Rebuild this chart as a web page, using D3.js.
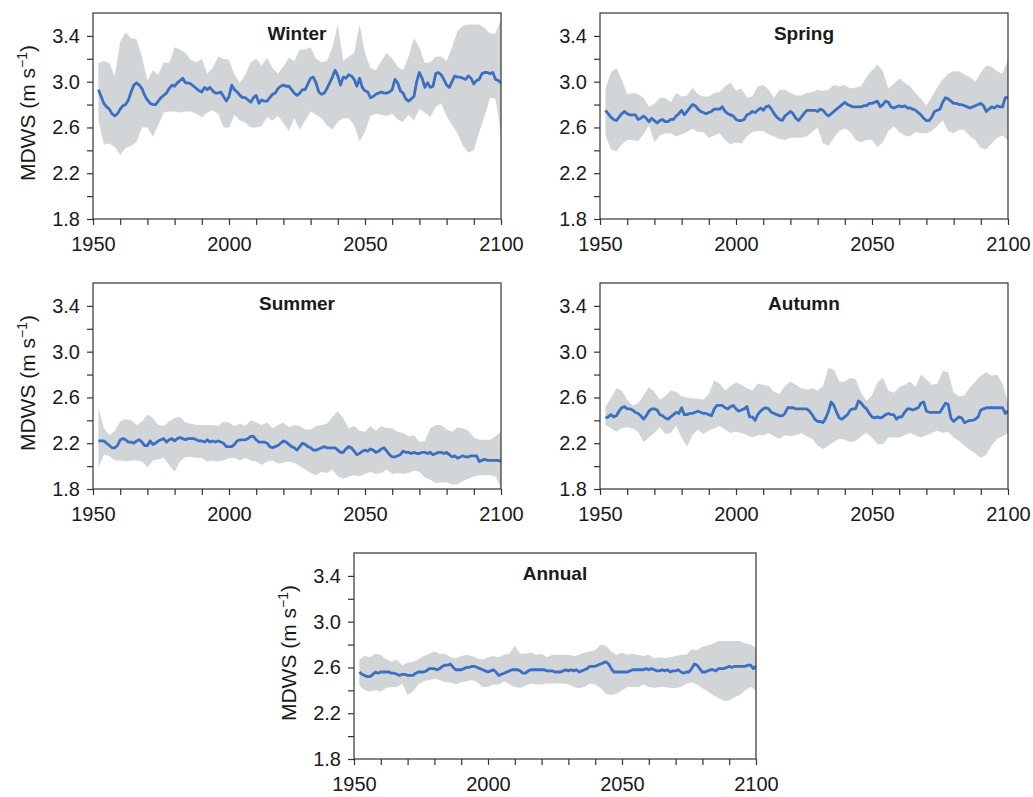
<!DOCTYPE html>
<html>
<head>
<meta charset="utf-8">
<script src="https://cdn.jsdelivr.net/npm/d3@7"></script>
<style>
  body { margin: 0; background: #fff; }
  svg { display: block; }
  text { font-family: "Liberation Sans", Arial, Helvetica, sans-serif; fill: #1a1a1a; }
</style>
</head>
<body>
<svg id="chart" width="1033" height="797"></svg>
<script>
// Years of the ensemble mean (annual) and of the ensemble spread (every second year)
const meanYears = d3.range(1952, 2101);
const bandYears = d3.range(1952, 2101, 2);

// Axis ticks
const yMajorTicks = [1.8, 2.2, 2.6, 3.0, 3.4];
const yAllTicks = [1.8, 2.0, 2.2, 2.4, 2.6, 2.8, 3.0, 3.2, 3.4];
const xAllTicks = d3.range(1950, 2101, 10);
const xLabelTicks = [1950, 2000, 2050, 2100];

// Winter
const winterMean = [
  2.93,2.87,2.81,2.78,2.76,2.72,2.70,2.72,2.76,2.79,
  2.80,2.84,2.91,2.97,2.99,2.97,2.94,2.88,2.84,2.81,
  2.80,2.80,2.83,2.86,2.88,2.90,2.94,2.97,2.96,2.99,
  3.01,3.03,2.99,2.99,2.98,2.96,2.94,2.92,2.91,2.95,
  2.93,2.95,2.92,2.90,2.90,2.91,2.87,2.83,2.87,2.97,
  2.93,2.91,2.88,2.86,2.86,2.84,2.82,2.86,2.88,2.81,
  2.84,2.83,2.83,2.86,2.89,2.90,2.94,2.96,2.97,2.96,
  2.96,2.93,2.90,2.88,2.90,2.93,2.93,2.98,3.03,3.04,
  2.99,2.91,2.89,2.90,2.94,2.99,3.04,3.10,3.05,2.97,
  3.04,3.03,3.06,3.05,3.02,2.96,3.03,2.95,2.92,2.91,
  2.86,2.87,2.89,2.90,2.91,2.90,2.90,2.91,2.93,3.02,
  2.99,2.92,2.90,2.85,2.83,2.85,2.87,3.00,3.08,3.03,
  2.95,2.99,2.95,2.96,3.07,3.08,3.06,3.02,2.97,2.95,
  3.00,3.05,3.04,3.04,3.03,3.02,3.05,3.03,2.98,3.01,
  3.02,3.07,3.08,3.08,3.07,3.08,3.02,3.01,2.99
];
const winterHigh = [
  3.16,3.18,3.16,3.05,3.35,3.43,3.38,3.37,3.22,3.01,
  3.10,3.06,3.17,3.16,3.30,3.28,3.25,3.19,3.17,3.20,
  3.07,3.12,3.22,3.20,3.19,3.06,2.99,3.06,3.17,3.20,
  3.14,3.21,3.12,3.07,3.13,3.21,3.18,3.28,3.28,3.30,
  3.20,3.17,3.18,3.30,3.50,3.18,3.22,3.25,3.50,3.25,
  3.12,3.10,3.18,3.25,3.20,3.13,3.10,3.22,3.38,3.30,
  3.16,3.17,3.22,3.22,3.18,3.30,3.44,3.49,3.50,3.50,
  3.50,3.47,3.42,3.42,3.54
];
const winterLow = [
  2.66,2.45,2.46,2.43,2.36,2.42,2.44,2.47,2.60,2.60,
  2.52,2.62,2.73,2.74,2.74,2.73,2.74,2.74,2.72,2.69,
  2.73,2.75,2.72,2.60,2.60,2.71,2.66,2.64,2.60,2.60,
  2.61,2.69,2.66,2.70,2.64,2.57,2.68,2.58,2.66,2.74,
  2.71,2.68,2.62,2.58,2.65,2.68,2.68,2.62,2.48,2.56,
  2.70,2.72,2.71,2.70,2.72,2.67,2.65,2.71,2.66,2.76,
  2.73,2.69,2.78,2.81,2.70,2.62,2.55,2.44,2.38,2.40,
  2.56,2.70,2.86,2.85,2.55
];

// Spring
const springMean = [
  2.75,2.72,2.69,2.67,2.66,2.69,2.72,2.74,2.72,2.71,
  2.71,2.71,2.67,2.68,2.70,2.68,2.65,2.68,2.66,2.64,
  2.66,2.67,2.65,2.65,2.67,2.67,2.70,2.72,2.75,2.71,
  2.74,2.77,2.80,2.79,2.76,2.74,2.73,2.72,2.73,2.74,
  2.76,2.76,2.76,2.78,2.74,2.72,2.71,2.70,2.67,2.66,
  2.66,2.67,2.71,2.72,2.74,2.73,2.75,2.77,2.75,2.78,
  2.79,2.76,2.72,2.69,2.67,2.66,2.70,2.72,2.74,2.72,
  2.68,2.66,2.69,2.72,2.75,2.75,2.75,2.75,2.74,2.76,
  2.75,2.72,2.70,2.72,2.74,2.76,2.78,2.80,2.82,2.80,
  2.79,2.78,2.78,2.78,2.78,2.79,2.79,2.81,2.81,2.82,
  2.83,2.78,2.80,2.83,2.82,2.78,2.77,2.78,2.79,2.78,
  2.79,2.77,2.77,2.76,2.75,2.73,2.71,2.68,2.66,2.66,
  2.69,2.74,2.75,2.76,2.82,2.86,2.85,2.83,2.81,2.81,
  2.80,2.80,2.79,2.78,2.77,2.78,2.79,2.80,2.81,2.79,
  2.74,2.76,2.78,2.77,2.79,2.78,2.78,2.86,2.86
];
const springHigh = [
  2.94,3.08,3.12,3.02,2.89,2.90,2.89,2.86,2.78,2.81,
  2.86,2.86,2.82,2.90,2.87,2.88,2.95,2.89,2.87,2.87,
  2.90,2.91,2.96,2.99,2.92,2.94,2.86,2.87,2.96,2.97,
  2.93,2.86,2.93,2.93,2.90,2.88,2.88,2.90,2.91,2.93,
  2.92,2.93,2.97,2.96,2.97,2.94,2.95,2.96,3.04,3.10,
  3.15,3.09,2.94,2.98,3.03,2.99,2.96,2.90,2.85,2.79,
  2.87,2.95,3.02,3.07,3.09,3.09,3.06,3.04,3.00,3.08,
  3.14,3.13,3.09,3.07,3.20
];
const springLow = [
  2.53,2.41,2.39,2.45,2.49,2.49,2.48,2.54,2.62,2.47,
  2.53,2.55,2.55,2.52,2.54,2.56,2.59,2.56,2.56,2.51,
  2.53,2.55,2.49,2.45,2.47,2.46,2.52,2.56,2.57,2.57,
  2.54,2.52,2.50,2.49,2.51,2.51,2.51,2.52,2.56,2.60,
  2.46,2.44,2.51,2.57,2.59,2.56,2.49,2.47,2.49,2.49,
  2.43,2.47,2.57,2.61,2.56,2.53,2.52,2.56,2.55,2.55,
  2.57,2.61,2.66,2.57,2.55,2.58,2.58,2.52,2.49,2.42,
  2.41,2.46,2.51,2.53,2.49
];

// Summer
const summerMean = [
  2.22,2.22,2.22,2.20,2.18,2.16,2.16,2.18,2.23,2.24,
  2.23,2.21,2.21,2.20,2.22,2.23,2.21,2.18,2.18,2.22,
  2.19,2.20,2.22,2.23,2.24,2.21,2.23,2.24,2.22,2.24,
  2.25,2.24,2.23,2.24,2.24,2.24,2.23,2.22,2.22,2.21,
  2.23,2.21,2.22,2.21,2.22,2.21,2.20,2.17,2.17,2.17,
  2.19,2.22,2.23,2.23,2.23,2.24,2.26,2.26,2.23,2.21,
  2.21,2.21,2.20,2.17,2.16,2.17,2.18,2.20,2.22,2.21,
  2.19,2.17,2.16,2.14,2.17,2.20,2.19,2.17,2.16,2.14,
  2.14,2.15,2.16,2.17,2.16,2.16,2.16,2.16,2.14,2.12,
  2.12,2.15,2.17,2.16,2.13,2.10,2.11,2.13,2.14,2.13,
  2.15,2.14,2.12,2.13,2.15,2.16,2.13,2.10,2.08,2.08,
  2.09,2.10,2.13,2.12,2.12,2.11,2.12,2.11,2.11,2.12,
  2.12,2.11,2.12,2.10,2.11,2.12,2.12,2.11,2.12,2.10,
  2.08,2.09,2.07,2.08,2.09,2.08,2.08,2.09,2.09,2.09,
  2.04,2.05,2.06,2.05,2.05,2.05,2.05,2.05,2.04
];
const summerHigh = [
  2.51,2.33,2.27,2.31,2.39,2.41,2.40,2.36,2.39,2.45,
  2.42,2.36,2.35,2.39,2.42,2.43,2.38,2.37,2.36,2.36,
  2.36,2.36,2.35,2.39,2.38,2.35,2.37,2.35,2.40,2.38,
  2.36,2.38,2.33,2.36,2.38,2.34,2.36,2.35,2.32,2.32,
  2.35,2.36,2.37,2.43,2.48,2.42,2.33,2.35,2.31,2.30,
  2.35,2.31,2.35,2.33,2.33,2.30,2.29,2.26,2.27,2.21,
  2.22,2.33,2.36,2.36,2.32,2.30,2.34,2.33,2.31,2.25,
  2.23,2.23,2.23,2.26,2.30
];
const summerLow = [
  1.99,2.10,2.09,2.05,2.05,2.04,2.05,2.05,2.04,1.99,
  2.05,2.06,2.07,2.01,1.95,2.04,2.08,2.08,2.07,2.07,
  2.04,2.05,2.04,2.05,2.07,2.07,2.05,2.07,2.05,2.04,
  2.01,2.04,2.05,2.02,2.03,2.04,2.03,2.00,1.97,1.94,
  1.92,1.95,1.94,1.97,1.91,1.89,1.91,1.92,1.91,1.93,
  1.95,1.93,1.94,1.97,1.93,1.94,1.93,1.94,1.96,1.95,
  1.90,1.88,1.85,1.86,1.86,1.84,1.84,1.87,1.89,1.91,
  1.92,1.92,1.92,1.91,1.81
];

// Autumn
const autumnMean = [
  2.42,2.43,2.45,2.43,2.44,2.48,2.51,2.52,2.50,2.50,
  2.49,2.47,2.46,2.44,2.41,2.44,2.48,2.50,2.50,2.49,
  2.45,2.44,2.42,2.41,2.43,2.45,2.47,2.46,2.51,2.45,
  2.45,2.46,2.46,2.47,2.48,2.47,2.46,2.46,2.45,2.44,
  2.50,2.53,2.53,2.53,2.51,2.50,2.52,2.53,2.50,2.48,
  2.49,2.50,2.52,2.43,2.43,2.40,2.45,2.48,2.50,2.51,
  2.50,2.47,2.46,2.45,2.44,2.44,2.46,2.51,2.51,2.51,
  2.50,2.50,2.50,2.50,2.50,2.48,2.45,2.41,2.39,2.39,
  2.38,2.42,2.48,2.56,2.53,2.47,2.42,2.41,2.43,2.45,
  2.49,2.50,2.50,2.57,2.55,2.52,2.50,2.46,2.43,2.42,
  2.43,2.42,2.43,2.45,2.46,2.45,2.45,2.41,2.43,2.43,
  2.47,2.50,2.50,2.49,2.50,2.51,2.55,2.56,2.48,2.47,
  2.47,2.47,2.47,2.47,2.51,2.55,2.54,2.42,2.39,2.41,
  2.43,2.42,2.38,2.39,2.40,2.40,2.41,2.43,2.49,2.50,
  2.51,2.51,2.51,2.51,2.51,2.51,2.51,2.46,2.48
];
const autumnHigh = [
  2.52,2.59,2.68,2.66,2.58,2.53,2.55,2.62,2.69,2.65,
  2.58,2.61,2.66,2.65,2.61,2.60,2.59,2.59,2.58,2.63,
  2.75,2.72,2.66,2.70,2.73,2.71,2.68,2.66,2.72,2.71,
  2.70,2.65,2.63,2.70,2.74,2.71,2.68,2.67,2.68,2.66,
  2.70,2.86,2.84,2.74,2.74,2.77,2.76,2.64,2.57,2.62,
  2.73,2.77,2.66,2.64,2.69,2.71,2.74,2.69,2.80,2.76,
  2.71,2.72,2.83,2.82,2.64,2.61,2.62,2.69,2.74,2.79,
  2.82,2.79,2.80,2.72,2.55
];
const autumnLow = [
  2.36,2.33,2.30,2.33,2.34,2.33,2.30,2.21,2.25,2.29,
  2.34,2.28,2.29,2.35,2.25,2.17,2.27,2.32,2.28,2.31,
  2.33,2.35,2.32,2.29,2.30,2.29,2.27,2.25,2.27,2.27,
  2.29,2.26,2.24,2.27,2.26,2.27,2.29,2.26,2.24,2.18,
  2.15,2.18,2.21,2.24,2.23,2.21,2.22,2.26,2.29,2.25,
  2.19,2.19,2.25,2.25,2.25,2.27,2.29,2.27,2.25,2.27,
  2.29,2.31,2.29,2.30,2.25,2.22,2.18,2.14,2.11,2.07,
  2.10,2.18,2.24,2.26,2.29
];

// Annual
const annualMean = [
  2.56,2.54,2.53,2.52,2.52,2.54,2.56,2.55,2.56,2.56,
  2.56,2.56,2.55,2.55,2.54,2.53,2.54,2.54,2.53,2.53,
  2.53,2.55,2.56,2.56,2.56,2.57,2.59,2.59,2.59,2.58,
  2.59,2.61,2.62,2.62,2.63,2.60,2.58,2.58,2.58,2.59,
  2.60,2.60,2.61,2.61,2.60,2.59,2.58,2.57,2.56,2.57,
  2.58,2.56,2.53,2.54,2.55,2.56,2.57,2.58,2.58,2.58,
  2.57,2.55,2.55,2.57,2.58,2.58,2.58,2.58,2.58,2.58,
  2.57,2.57,2.57,2.56,2.56,2.56,2.57,2.58,2.57,2.58,
  2.57,2.58,2.56,2.57,2.58,2.59,2.61,2.61,2.61,2.62,
  2.63,2.64,2.65,2.63,2.59,2.56,2.56,2.56,2.56,2.56,
  2.56,2.57,2.58,2.58,2.58,2.58,2.58,2.59,2.58,2.59,
  2.58,2.57,2.57,2.58,2.57,2.58,2.56,2.57,2.57,2.58,
  2.56,2.55,2.56,2.56,2.59,2.63,2.62,2.59,2.56,2.56,
  2.57,2.58,2.58,2.57,2.59,2.59,2.59,2.60,2.61,2.60,
  2.61,2.61,2.61,2.61,2.61,2.62,2.62,2.59,2.61
];
const annualHigh = [
  2.67,2.70,2.69,2.72,2.71,2.67,2.65,2.67,2.62,2.64,
  2.65,2.67,2.70,2.72,2.74,2.72,2.72,2.69,2.68,2.70,
  2.71,2.70,2.68,2.67,2.69,2.70,2.69,2.71,2.72,2.79,
  2.72,2.72,2.73,2.71,2.72,2.69,2.71,2.71,2.71,2.71,
  2.70,2.71,2.73,2.74,2.75,2.80,2.79,2.74,2.71,2.73,
  2.71,2.72,2.71,2.70,2.71,2.68,2.69,2.68,2.69,2.70,
  2.71,2.71,2.76,2.75,2.78,2.79,2.81,2.83,2.83,2.83,
  2.83,2.83,2.81,2.80,2.77
];
const annualLow = [
  2.44,2.40,2.39,2.40,2.39,2.42,2.43,2.43,2.46,2.36,
  2.39,2.45,2.48,2.49,2.50,2.49,2.47,2.47,2.45,2.47,
  2.48,2.49,2.47,2.43,2.43,2.45,2.45,2.48,2.45,2.43,
  2.42,2.44,2.46,2.45,2.45,2.46,2.46,2.46,2.46,2.45,
  2.43,2.42,2.43,2.46,2.45,2.42,2.37,2.36,2.37,2.40,
  2.43,2.43,2.43,2.45,2.43,2.42,2.43,2.43,2.42,2.42,
  2.43,2.46,2.47,2.45,2.42,2.39,2.36,2.33,2.31,2.31,
  2.34,2.36,2.40,2.43,2.40
];

const panels = [
  { title: "Winter", mean: winterMean, high: winterHigh, low: winterLow, left: 93,  top: 13,  width: 408, yLabel: true },
  { title: "Spring", mean: springMean, high: springHigh, low: springLow, left: 600, top: 13,  width: 408, yLabel: false },
  { title: "Summer", mean: summerMean, high: summerHigh, low: summerLow, left: 93,  top: 283, width: 408, yLabel: true },
  { title: "Autumn", mean: autumnMean, high: autumnHigh, low: autumnLow, left: 600, top: 283, width: 408, yLabel: false },
  { title: "Annual", mean: annualMean, high: annualHigh, low: annualLow, left: 354, top: 553, width: 402, yLabel: true }
];

const PLOT_H = 206;
const BAND_COLOR = "#d1d5d8";
const LINE_COLOR = "#3a6fc3";
const AXIS_COLOR = "#333";

const svg = d3.select("#chart");

panels.forEach((p, i) => {
  const g = svg.append("g").attr("transform", `translate(${p.left},${p.top})`);

  const x = d3.scaleLinear().domain([1950, 2100]).range([0, p.width]);
  const y = d3.scaleLinear().domain([1.8, 3.6]).range([PLOT_H, 0]);

  const clipId = "clip-" + i;
  g.append("clipPath").attr("id", clipId)
    .append("rect").attr("width", p.width).attr("height", PLOT_H);

  const plot = g.append("g").attr("clip-path", `url(#${clipId})`);

  // ensemble spread
  const bandData = bandYears.map((yr, k) => ({ year: yr, lo: p.low[k], hi: p.high[k] }));
  plot.append("path")
    .datum(bandData)
    .attr("fill", BAND_COLOR)
    .attr("d", d3.area()
      .x(d => x(d.year))
      .y0(d => y(d.lo))
      .y1(d => y(d.hi)));

  // ensemble mean
  const meanData = meanYears.map((yr, k) => ({ year: yr, v: p.mean[k] }));
  plot.append("path")
    .datum(meanData)
    .attr("fill", "none")
    .attr("stroke", LINE_COLOR)
    .attr("stroke-width", 2.8)
    .attr("stroke-linejoin", "round")
    .attr("d", d3.line().x(d => x(d.year)).y(d => y(d.v)));

  // y axis
  const yAxis = g.append("g")
    .call(d3.axisLeft(y)
      .tickValues(yAllTicks)
      .tickSize(6)
      .tickPadding(7)
      .tickFormat(d => yMajorTicks.some(t => Math.abs(t - d) < 1e-9) ? d3.format(".1f")(d) : ""));

  // x axis
  const xAxis = g.append("g")
    .attr("transform", `translate(0,${PLOT_H})`)
    .call(d3.axisBottom(x)
      .tickValues(xAllTicks)
      .tickSize(6)
      .tickPadding(12)
      .tickFormat(d => xLabelTicks.includes(d) ? d : ""));

  [yAxis, xAxis].forEach(a => {
    a.select(".domain").remove();
    a.selectAll(".tick line").attr("stroke", AXIS_COLOR).attr("stroke-width", 1.2);
    a.selectAll(".tick text")
      .attr("font-size", 20)
      .attr("fill", "#1a1a1a")
      .style("font-family", "'Liberation Sans', Arial, sans-serif");
  });

  // frame
  g.append("rect")
    .attr("width", p.width).attr("height", PLOT_H)
    .attr("fill", "none").attr("stroke", AXIS_COLOR).attr("stroke-width", 1.2);

  // panel title
  g.append("text")
    .attr("x", p.width / 2).attr("y", 27)
    .attr("text-anchor", "middle")
    .attr("font-size", 19).attr("font-weight", "bold")
    .text(p.title);

  // y-axis title
  if (p.yLabel) {
    const t = g.append("text")
      .attr("transform", `translate(-58,${PLOT_H / 2 - 3}) rotate(-90)`)
      .attr("text-anchor", "middle")
      .attr("font-size", 21);
    t.append("tspan").text("MDWS (m s");
    t.append("tspan").attr("font-size", 14).attr("dy", -8).text("\u22121");
    t.append("tspan").attr("dy", 8).text(")");
  }
});
</script>
</body>
</html>
